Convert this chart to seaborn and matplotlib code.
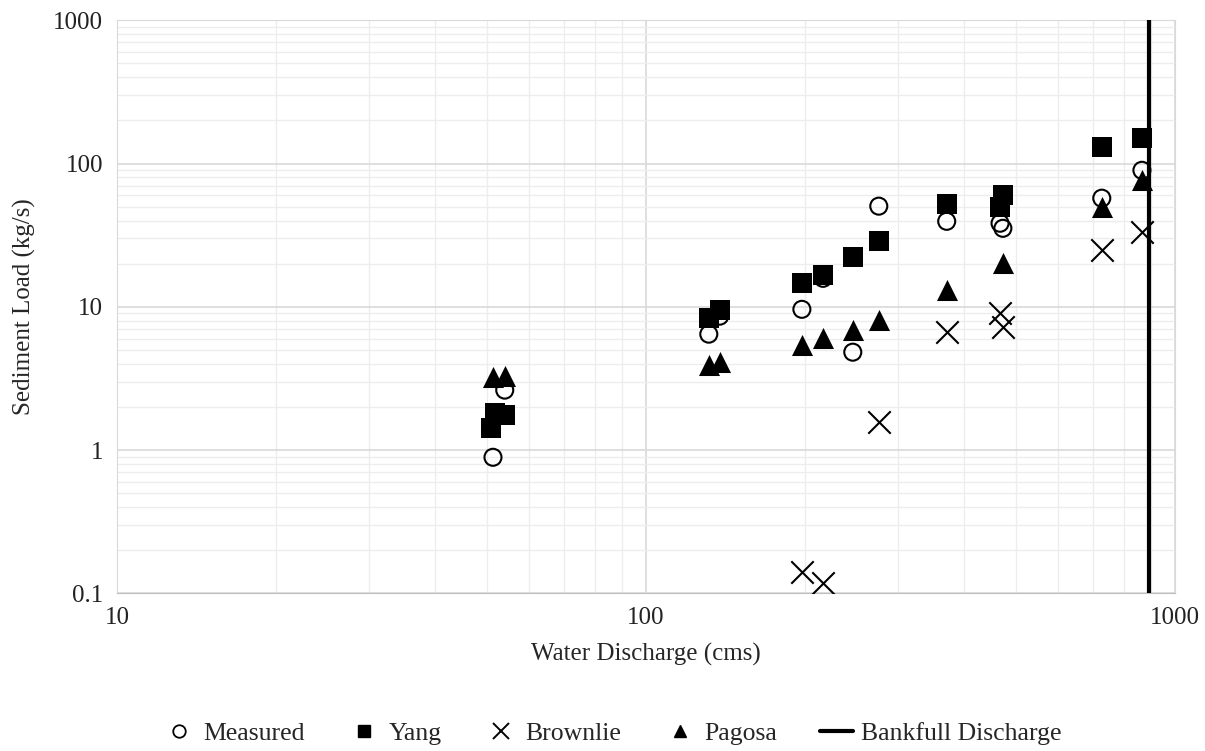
import pandas as pd
import matplotlib
matplotlib.use("Agg")
import matplotlib.pyplot as plt
import seaborn as sns
from matplotlib.lines import Line2D
from matplotlib.ticker import FixedLocator, FixedFormatter, LogLocator, NullFormatter

# Data (water discharge in cms, sediment load in kg/s)
measured_q = [51.4, 54.1, 131.5, 137.9, 197.2, 216.2, 246.1, 275.6, 370.4, 467.2, 473.0, 727.5, 866.4]
measured_load = [0.89, 2.62, 6.44, 8.6, 9.6, 15.8, 4.82, 50.4, 39.5, 38.3, 35.3, 57.3, 89.7]

yang_q = [50.9, 51.8, 54.1, 131.5, 137.9, 197.2, 216.2, 246.1, 275.6, 370.4, 467.2, 473.0, 727.5, 866.4]
yang_load = [1.42, 1.81, 1.75, 8.3, 9.5, 14.6, 16.6, 22.2, 28.7, 52.0, 49.6, 60.1, 130.0, 150.0]

brownlie_q = [197.2, 216.2, 275.6, 370.4, 467.2, 473.0, 727.5, 866.4]
brownlie_load = [0.141, 0.118, 1.57, 6.65, 9.0, 7.2, 24.8, 33.2]

pagosa_q = [51.4, 54.1, 131.5, 137.9, 197.2, 216.2, 246.1, 275.6, 370.4, 473.0, 727.5, 866.4]
pagosa_load = [3.23, 3.27, 3.91, 4.1, 5.4, 6.04, 6.87, 8.06, 13.1, 20.1, 49.5, 76.4]

bankfull_q = 893.0
y_ticks = [0.1, 1, 10, 100, 1000]
y_labels = ["0.1", "1", "10", "100", "1000"]
x_ticks = [10, 100, 1000]
x_labels = ["10", "100", "1000"]

sns.set_style("white")
plt.rcParams["font.family"] = ["Liberation Serif", "DejaVu Serif"]

fig = plt.figure(figsize=(12.05, 7.51), dpi=100)
ax = fig.add_axes([0.097, 0.210, 0.878, 0.763])

ax.set_xscale("log")
ax.set_yscale("log")
ax.set_xlim(10, 1000)
ax.set_ylim(0.1, 1000)

# grid first so the markers sit on top
ax.xaxis.set_minor_locator(LogLocator(base=10, subs=range(2, 10)))
ax.yaxis.set_minor_locator(LogLocator(base=10, subs=range(2, 10)))
ax.grid(True, which="major", color="#d9d9d9", linewidth=1.2)
ax.grid(True, which="minor", color="#ededed", linewidth=1.0)
ax.set_axisbelow(True)

sns.scatterplot(x=measured_q, y=measured_load, ax=ax, marker="o", s=150,
                facecolor="none", edgecolor="black", linewidth=1.5, zorder=3)
sns.scatterplot(x=yang_q, y=yang_load, ax=ax, marker="s", s=190,
                color="black", edgecolor="black", linewidth=0, zorder=4)
sns.scatterplot(x=brownlie_q, y=brownlie_load, ax=ax, marker="x", s=260,
                color="black", linewidth=1.5, zorder=5)
sns.scatterplot(x=pagosa_q, y=pagosa_load, ax=ax, marker="^", s=230,
                color="black", edgecolor="black", linewidth=0, zorder=6)
ax.axvline(bankfull_q, color="black", linewidth=3, zorder=7)

ax.yaxis.set_major_locator(FixedLocator(y_ticks))
ax.yaxis.set_major_formatter(FixedFormatter(y_labels))
ax.xaxis.set_major_locator(FixedLocator(x_ticks))
ax.xaxis.set_major_formatter(FixedFormatter(x_labels))
ax.xaxis.set_minor_formatter(NullFormatter())
ax.yaxis.set_minor_formatter(NullFormatter())
ax.tick_params(axis="both", which="both", length=0, labelsize=18, pad=10, colors="#222222")

ax.set_xlabel("Water Discharge (cms)", fontsize=18, labelpad=10)
ax.set_ylabel("Sediment Load (kg/s)", fontsize=18, labelpad=12)

for side in ["top", "right", "left"]:
    ax.spines[side].set_color("#d9d9d9")
ax.spines["bottom"].set_color("#bfbfbf")

handles = [
    Line2D([], [], marker="o", linestyle="none", markerfacecolor="none",
           markeredgecolor="black", markersize=9, markeredgewidth=1.3),
    Line2D([], [], marker="s", linestyle="none", color="black", markersize=9),
    Line2D([], [], marker="x", linestyle="none", color="black", markersize=12, markeredgewidth=1.4),
    Line2D([], [], marker="^", linestyle="none", color="black", markersize=9),
    Line2D([], [], color="black", linewidth=3),
]
labels = ["Measured", "Yang", "Brownlie", "Pagosa", "Bankfull Discharge"]
fig.legend(handles, labels, loc="center", bbox_to_anchor=(0.508, 0.023), ncol=5,
           frameon=False, fontsize=18.5, handlelength=1.3, handletextpad=0.3,
           columnspacing=1.65)

fig.savefig("out.png", dpi=100)
